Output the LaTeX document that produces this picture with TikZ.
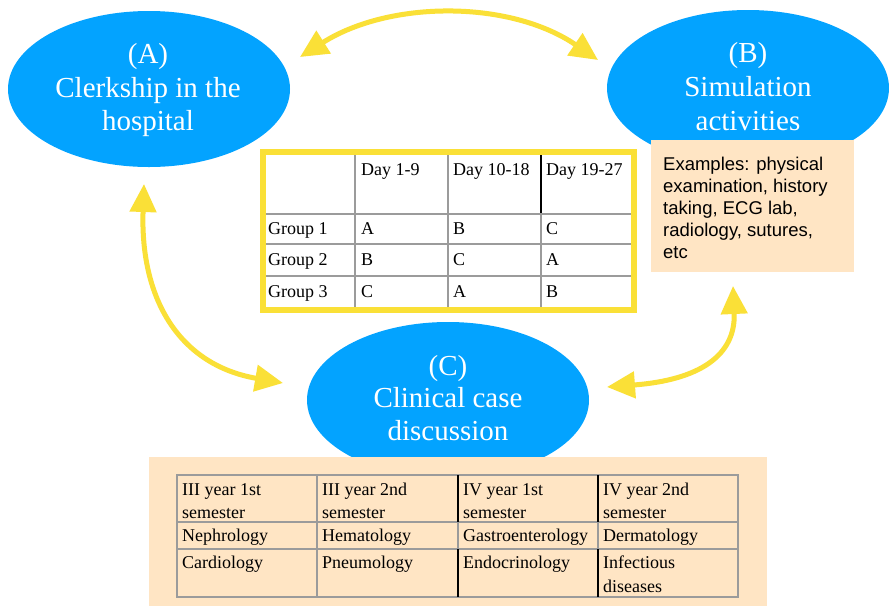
\documentclass[tikz,border=0pt]{standalone}
\usepackage{fontspec}
\setmainfont{Liberation Serif}
\newfontfamily\sansf{Liberation Sans}
\usetikzlibrary{arrows.meta,shapes.geometric}
\definecolor{ellblue}{RGB}{3,163,255}
\definecolor{arrowyellow}{RGB}{250,224,55}
\definecolor{boxtan}{RGB}{255,229,196}
\definecolor{gridgray}{RGB}{155,155,155}
\begin{document}
\begin{tikzpicture}[x=1pt,y=-1pt,
 ell/.style={ellipse, fill=ellblue, draw=none, minimum width=282pt, minimum height=156pt, inner sep=0pt},
 elltext/.style={text=white, anchor=base, inner sep=0pt, font=\fontsize{29}{34}\selectfont},
 cell/.style={anchor=base west, inner sep=0pt, font=\fontsize{18}{21}\selectfont},
 extext/.style={anchor=base west, inner sep=0pt, font=\sansf\fontsize{18.5}{22}\selectfont},
 gridline/.style={draw=gridgray, line width=1.2pt},
 darkline/.style={draw=black, line width=1.4pt},
 yarrow/.style={draw=arrowyellow, line width=5pt, {Triangle[length=28pt,width=26pt]}-{Triangle[length=28pt,width=26pt]}},
 tanbox/.style={fill=boxtan, draw=none},
]
\useasboundingbox (0,0) rectangle (889,606);
\fill[white] (0,0) rectangle (889,606);

% ellipses
\node[ell] (A) at (149,89) {};
\node[ell] (B) at (748,88) {};
\node[ell] (C) at (448,400) {};

\node[elltext] (A1) at (148,63) {(A)};
\node[elltext] (A2) at (148,97) {Clerkship in the};
\node[elltext] (A3) at (148,130) {hospital};
\node[elltext] (B1) at (748,62) {(B)};
\node[elltext] (B2) at (748,96) {Simulation};
\node[elltext] (B3) at (748,130) {activities};

% examples box
\fill[tanbox] (651,140) rectangle (854,272);
\node[extext] (E1) at (663,170) {Examples: physical};
\node[extext] (E2) at (663,192) {examination, history};
\node[extext] (E3) at (663,214) {taking, ECG lab,};
\node[extext] (E4) at (663,236) {radiology, sutures,};
\node[extext] (E5) at (663,258) {etc};

% ellipse C text (before bottom box, box covers ellipse bottom)
\node[elltext] (C1) at (448,375) {(C)};
\node[elltext] (C2) at (448,407) {Clinical case};
\node[elltext] (C3) at (448,440) {discussion};

% bottom box and table
\fill[tanbox] (149,457) rectangle (767,606);
\draw[gridline] (177,475) rectangle (738,597);
\draw[gridline] (177,522) -- (738,522);
\draw[gridline] (177,549) -- (738,549);
\draw[gridline] (317,475) -- (317,597);
\draw[gridline] (458,522) -- (458,549);
\draw[gridline] (598,522) -- (598,549);
\draw[darkline] (458,475) -- (458,522);
\draw[darkline] (458,549) -- (458,597);
\draw[darkline] (598,475) -- (598,522);
\draw[darkline] (598,549) -- (598,597);

\foreach \x/\y/\t [count=\i] in {
 182/495/III year 1st, 182/518/semester,
 322/495/III year 2nd, 322/518/semester,
 463/495/IV year 1st, 463/518/semester,
 603/495/IV year 2nd, 603/518/semester,
 182/541/Nephrology, 322/541/Hematology, 463/541/Gastroenterology, 603/541/Dermatology,
 182/568/Cardiology, 322/568/Pneumology, 463/568/Endocrinology, 603/568/Infectious,
 603/592/diseases}
 \node[cell] (bt\i) at (\x,\y) {\t};

% middle table
\fill[white] (263,152) rectangle (634,310);
\draw[gridline] (355,152) -- (355,310);
\draw[gridline] (448,152) -- (448,310);
\draw[gridline] (541,214) -- (541,310);
\draw[darkline] (541,152) -- (541,214);
\draw[gridline] (263,214) -- (634,214);
\draw[gridline] (263,244) -- (634,244);
\draw[gridline] (263,276) -- (634,276);
\draw[draw=arrowyellow, line width=6pt] (263,152) rectangle (634,310);

\foreach \x/\y/\t [count=\i] in {
 361/175/Day 1-9, 453/175/Day 10-18, 546/175/Day 19-27,
 268/234/Group 1, 361/234/A, 453/234/B, 546/234/C,
 268/265/Group 2, 361/265/B, 453/265/C, 546/265/A,
 268/297/Group 3, 361/297/C, 453/297/A, 546/297/B}
 \node[cell] (mt\i) at (\x,\y) {\t};

% arrows
\coordinate (tAB) at (300,57);
\coordinate (tBA) at (598,60);
\coordinate (tAC) at (144,184);
\coordinate (tCA) at (283,383);
\coordinate (tBC) at (733,286);
\coordinate (tCB) at (607,387);
\draw[yarrow] (tAB) .. controls (390,0) and (510,0) .. (tBA);
\draw[yarrow] (tAC) .. controls (140,300) and (180,365) .. (tCA);
\draw[yarrow] (tBC) .. controls (736,355) and (700,380) .. (tCB);
\end{tikzpicture}
\end{document}
